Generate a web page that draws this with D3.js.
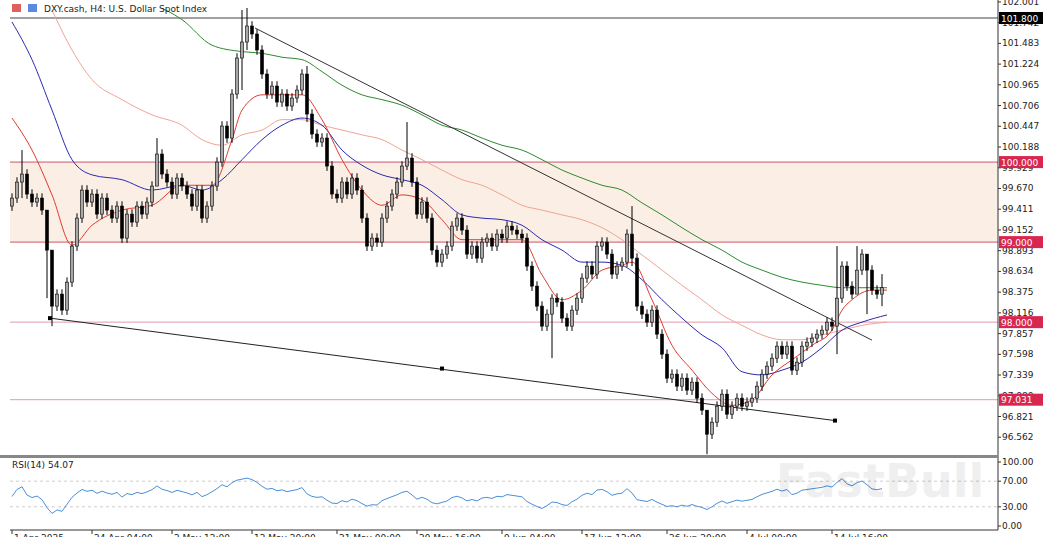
<!DOCTYPE html>
<html>
<head>
<meta charset="utf-8">
<script src="https://cdn.jsdelivr.net/npm/d3@7"></script>
<style>
  body { margin: 0; background: #fff; }
  text { font-family: 'DejaVu Sans', sans-serif; }
</style>
</head>
<body>
<svg id="chart" width="1044" height="537"></svg>
<script>
// closes, one per H4 bar
const closes = [
  99.55, 99.75, 99.85, 99.6, 99.5, 99.55, 99.4, 98.9, 98.2, 98.35, 98.15, 98.5, 98.95, 99.3, 99.65, 99.5,
  99.6, 99.35, 99.55, 99.4, 99.3, 99.45, 99.05, 99.35, 99.25, 99.45, 99.35, 99.5, 99.7, 100.1, 99.85, 99.75,
  99.6, 99.8, 99.7, 99.6, 99.45, 99.65, 99.3, 99.45, 99.7, 100.0, 100.45, 100.3, 100.85, 101.3, 101.5, 101.7,
  101.6, 101.4, 101.1, 100.85, 100.95, 100.75, 100.85, 100.7, 100.8, 100.9, 101.1, 100.6, 100.35, 100.25, 100.3, 99.95,
  99.6, 99.55, 99.75, 99.6, 99.8, 99.65, 99.3, 98.95, 99.05, 99.0, 99.3, 99.45, 99.6, 99.75, 99.95, 100.05,
  99.75, 99.35, 99.5, 99.3, 98.9, 98.75, 98.85, 98.95, 99.2, 99.3, 99.15, 98.85, 98.95, 98.8, 99.0, 99.05,
  98.95, 99.1, 99.05, 99.2, 99.15, 99.1, 99.05, 98.7, 98.45, 98.2, 97.95, 98.1, 98.3, 98.25, 98.05, 97.95,
  98.15, 98.3, 98.55, 98.7, 98.6, 98.95, 99.0, 98.85, 98.6, 98.7, 98.75, 99.1, 98.8, 98.2, 98.1, 98.0,
  98.15, 97.85, 97.6, 97.3, 97.35, 97.2, 97.3, 97.15, 97.25, 97.05, 96.9, 96.6, 96.75, 96.95, 97.1, 96.85,
  96.95, 97.05, 96.95, 97.0, 97.05, 97.2, 97.35, 97.45, 97.55, 97.7, 97.6, 97.7, 97.4, 97.5, 97.7, 97.75,
  97.8, 97.85, 97.9, 98.0, 97.95, 98.3, 98.7, 98.45, 98.35, 98.65, 98.85, 98.65, 98.4, 98.35, 98.43
]
// notable wicks: [bar, high, low]
const spikes = [
  [2, 100.15, 99.55], [7, 98.9, 98.3], [8, 98.35, 97.95], [29, 100.3, 99.8], [46, 101.9, 100.9], [47, 101.95, 101.4],
  [59, 101.2, 100.5], [79, 100.5, 99.9], [108, 98.35, 97.55], [124, 99.45, 98.7], [139, 96.7, 96.35],
  [165, 98.95, 97.6], [169, 98.95, 98.5], [174, 98.6, 98.2], [171, 98.7, 98.1]
]
const maRedBars = [0, 4, 8, 12, 16, 22, 28, 34, 40, 44, 46, 50, 54, 58, 62, 66, 70, 74, 78, 82, 86, 90, 94, 98, 102, 106, 110, 114, 118, 122, 124, 128, 132, 136, 140, 144, 148, 152, 156, 160, 164, 166, 168, 172, 175]
const maRed = [100.55, 100.15, 99.59, 98.96, 99.21, 99.4, 99.46, 99.71, 99.71, 100.28, 100.65, 100.84, 100.84, 100.84, 100.53, 100.03, 99.65, 99.46, 99.59, 99.53, 99.28, 99.03, 99.03, 99.03, 99.03, 98.59, 98.28, 98.4, 98.65, 98.71, 98.75, 98.28, 97.71, 97.4, 97.11, 96.96, 97.03, 97.34, 97.53, 97.71, 97.9, 98.15, 98.28, 98.4, 98.4]
const maBlueBars = [0, 4, 8, 12, 16, 22, 28, 34, 38, 42, 46, 50, 54, 58, 62, 66, 70, 74, 78, 82, 86, 90, 94, 98, 102, 106, 110, 114, 118, 122, 126, 130, 134, 138, 142, 146, 150, 154, 158, 162, 166, 170, 175]
const maBlue = [101.75, 101.28, 100.65, 100.03, 99.84, 99.78, 99.65, 99.71, 99.65, 99.78, 100.03, 100.28, 100.46, 100.55, 100.46, 100.15, 99.96, 99.84, 99.78, 99.71, 99.53, 99.34, 99.3, 99.28, 99.21, 99.03, 98.9, 98.75, 98.75, 98.71, 98.53, 98.28, 98.05, 97.84, 97.68, 97.38, 97.34, 97.4, 97.5, 97.68, 97.9, 98.0, 98.09]
const maSalmonBars = [8, 12, 16, 22, 28, 34, 38, 42, 46, 50, 54, 58, 62, 66, 70, 74, 78, 82, 86, 90, 94, 98, 102, 106, 110, 114, 118, 122, 126, 130, 134, 138, 142, 146, 150, 154, 158, 162, 166, 170, 175]
const maSalmon = [101.9, 101.4, 101.03, 100.78, 100.59, 100.46, 100.28, 100.21, 100.34, 100.4, 100.53, 100.53, 100.46, 100.4, 100.34, 100.28, 100.15, 100.03, 99.9, 99.78, 99.71, 99.59, 99.46, 99.4, 99.34, 99.28, 99.18, 99.03, 98.84, 98.65, 98.46, 98.28, 98.09, 97.96, 97.84, 97.78, 97.78, 97.84, 97.9, 97.96, 98.0]
const maGreenBars = [28, 34, 40, 46, 50, 54, 58, 62, 66, 70, 74, 78, 82, 86, 90, 94, 98, 102, 106, 110, 114, 118, 122, 126, 130, 134, 138, 142, 146, 150, 154, 158, 162, 166, 170, 175]
const maGreen = [101.98, 101.78, 101.46, 101.38, 101.36, 101.31, 101.28, 101.13, 100.96, 100.84, 100.78, 100.71, 100.59, 100.46, 100.4, 100.3, 100.21, 100.15, 100.03, 99.9, 99.8, 99.71, 99.65, 99.49, 99.34, 99.18, 99.03, 98.9, 98.75, 98.65, 98.56, 98.5, 98.46, 98.43, 98.43, 98.43]
const trendUpper = [[48.6, 101.675], [172, 97.775]]
const trendLower = [[7.6, 98.05], [86, 97.42], [164.6, 96.77]]
const levels = [
  { v: 101.8, color: '#444', label: '101.800', bg: '#000' },
  { v: 100.0, color: '#c8566e', label: '100.000', bg: '#d8264f' },
  { v: 99.0, color: '#c8566e', label: '99.000', bg: '#d8264f' },
  { v: 98.0, color: '#e39aa8', label: '98.000', bg: '#d8264f' },
  { v: 97.031, color: '#e39aa8', label: '97.031', bg: '#d8264f' }
]
const priceTicks = [102.001, 101.742, 101.483, 101.224, 100.965, 100.706, 100.447, 100.188, 99.929, 99.670, 99.411, 99.152, 98.893, 98.634, 98.375, 98.116, 97.857, 97.598, 97.339, 97.080, 96.821, 96.562]
const rsiTicks = [100, 70, 30, 0]
const timeBars = [0, 16, 32, 48, 65, 81, 98, 114, 131, 147, 164]
const timeLabels = ['1 Apr 2025', '24 Apr 04:00', '2 May 12:00', '12 May 20:00', '21 May 00:00', '29 May 16:00', '9 Jun 04:00', '17 Jun 12:00', '26 Jun 20:00', '4 Jul 00:00', '14 Jul 16:00']

const svg = d3.select('#chart')
const pL = 10, pR = 998, pT = 8, pB = 455
const x = d3.scaleLinear().domain([0, 175]).range([12, 887])
const y = d3.scaleLinear().domain([96.34, 101.925]).range([pB, pT])
const yr = d3.scaleLinear().domain([0, 100]).range([526, 462])

svg.append('defs').append('clipPath').attr('id', 'clip')
  .append('rect').attr('x', pL).attr('y', pT).attr('width', pR - pL).attr('height', pB - pT)

const plot = svg.append('g').attr('clip-path', 'url(#clip)')

// 99-100 zone
plot.append('rect').attr('x', pL).attr('width', pR - pL)
  .attr('y', y(100)).attr('height', y(99) - y(100)).attr('fill', '#fbefe5')

levels.forEach(l => {
  plot.append('line').attr('x1', pL).attr('x2', pR)
    .attr('y1', y(l.v)).attr('y2', y(l.v)).attr('stroke', l.color).attr('stroke-width', 1)
})

// moving averages
const maLine = (bars, vals, color) => {
  plot.append('path').datum(bars.map((b, i) => [b, vals[i]]))
    .attr('d', d3.line().x(d => x(d[0])).y(d => y(d[1])).curve(d3.curveMonotoneX))
    .attr('fill', 'none').attr('stroke', color).attr('stroke-width', 1)
}
maLine(maGreenBars, maGreen, '#2e8b2e')
maLine(maSalmonBars, maSalmon, '#f0a496')
maLine(maBlueBars, maBlue, '#2b2bb0')
maLine(maRedBars, maRed, '#e03a2e')

// trend lines
plot.append('line').attr('x1', x(trendUpper[0][0])).attr('y1', y(trendUpper[0][1]))
  .attr('x2', x(trendUpper[1][0])).attr('y2', y(trendUpper[1][1])).attr('stroke', '#333')
plot.append('line').attr('x1', x(trendLower[0][0])).attr('y1', y(trendLower[0][1]))
  .attr('x2', x(trendLower[2][0])).attr('y2', y(trendLower[2][1])).attr('stroke', '#222')
plot.selectAll('.dot').data(trendLower).enter().append('rect')
  .attr('x', d => x(d[0]) - 2).attr('y', d => y(d[1]) - 2).attr('width', 4).attr('height', 4).attr('fill', '#000')

// candles
const spikeMap = new Map(spikes.map(s => [s[0], s]))
const candles = closes.map((c, i) => {
  const o = i === 0 ? c - 0.1 : closes[i - 1]
  const s = spikeMap.get(i)
  const hi = s ? s[1] : Math.max(o, c) + 0.06
  const lo = s ? s[2] : Math.min(o, c) - 0.06
  return { i, o, c, hi, lo }
})
const cg = plot.selectAll('.candle').data(candles).enter().append('g')
cg.append('line').attr('x1', d => x(d.i)).attr('x2', d => x(d.i))
  .attr('y1', d => y(d.hi)).attr('y2', d => y(d.lo)).attr('stroke', '#000')
cg.append('rect').attr('x', d => x(d.i) - 1.5).attr('width', 3)
  .attr('y', d => y(Math.max(d.o, d.c))).attr('height', d => Math.max(1, Math.abs(y(d.o) - y(d.c))))
  .attr('fill', d => d.c >= d.o ? '#a8a8a8' : '#000').attr('stroke', '#000').attr('stroke-width', 0.6)

// right price axis
svg.append('line').attr('x1', pR).attr('x2', pR).attr('y1', 0).attr('y2', 530).attr('stroke', '#333')
const pt = svg.append('g').selectAll('g').data(priceTicks).enter().append('g')
pt.append('line').attr('x1', pR).attr('x2', pR + 3).attr('y1', d => y(d)).attr('y2', d => y(d)).attr('stroke', '#333')
pt.append('text').attr('x', pR + 4).attr('y', d => y(d) + 3).attr('font-size', 9).attr('fill', '#222')
  .text(d => d.toFixed(3))
const lv = svg.append('g').selectAll('g').data(levels).enter().append('g')
lv.append('rect').attr('x', pR + 1).attr('y', d => y(d.v) - 6).attr('width', 44).attr('height', 12).attr('fill', d => d.bg)
lv.append('text').attr('x', pR + 3).attr('y', d => y(d.v) + 3.5).attr('font-size', 9).attr('fill', '#fff').text(d => d.label)

// title
svg.append('rect').attr('x', 12).attr('y', 4).attr('width', 9).attr('height', 8).attr('fill', '#e06060')
svg.append('rect').attr('x', 28).attr('y', 4).attr('width', 9).attr('height', 8).attr('fill', '#5a8ae0')
svg.append('text').attr('x', 44).attr('y', 12).attr('font-size', 9).attr('fill', '#222')
  .text('DXY.cash, H4:  U.S. Dollar Spot Index')

// separator
svg.append('rect').attr('x', 0).attr('y', pB).attr('width', pR).attr('height', 3).attr('fill', '#888')

// RSI pane
const rsi = []
let ag = 0.03, al = 0.035
closes.forEach((c, i) => {
  const ch = i === 0 ? 0 : c - closes[i - 1]
  ag = (ag * 13 + Math.max(ch, 0)) / 14
  al = (al * 13 + Math.max(-ch, 0)) / 14
  rsi.push(100 - 100 / (1 + ag / al))
})
;[70, 30].forEach(v => {
  svg.append('line').attr('x1', pL).attr('x2', pR).attr('y1', yr(v)).attr('y2', yr(v))
    .attr('stroke', '#ccc').attr('stroke-dasharray', '3,3')
})
svg.append('path').datum(rsi).attr('fill', 'none').attr('stroke', '#4a90d9').attr('stroke-width', 1)
  .attr('d', d3.line().x((d, i) => x(i)).y(d => yr(d)))
svg.append('text').attr('x', 12).attr('y', 468).attr('font-size', 9).attr('fill', '#222').text('RSI(14) 54.07')
const rt = svg.append('g').selectAll('g').data(rsiTicks).enter().append('g')
rt.append('line').attr('x1', pR).attr('x2', pR + 3).attr('y1', d => yr(d)).attr('y2', d => yr(d)).attr('stroke', '#333')
rt.append('text').attr('x', pR + 4).attr('y', d => yr(d) + 3).attr('font-size', 9).attr('fill', '#222').text(d => d.toFixed(2))

// watermark
svg.append('text').attr('x', 880).attr('y', 497).attr('text-anchor', 'middle').attr('font-size', 46)
  .attr('font-weight', 'bold').attr('fill', '#000').attr('opacity', 0.06).text('FastBull')

// time axis
svg.append('line').attr('x1', pL).attr('x2', pR).attr('y1', 530).attr('y2', 530).attr('stroke', '#333')
const tt = svg.append('g').selectAll('g').data(timeBars).enter().append('g')
tt.append('line').attr('x1', d => x(d)).attr('x2', d => x(d)).attr('y1', 530).attr('y2', 534).attr('stroke', '#333')
tt.append('text').attr('x', d => x(d) + 2).attr('y', 541).attr('font-size', 9).attr('fill', '#222')
  .text((d, i) => timeLabels[i])
</script>
</body>
</html>
